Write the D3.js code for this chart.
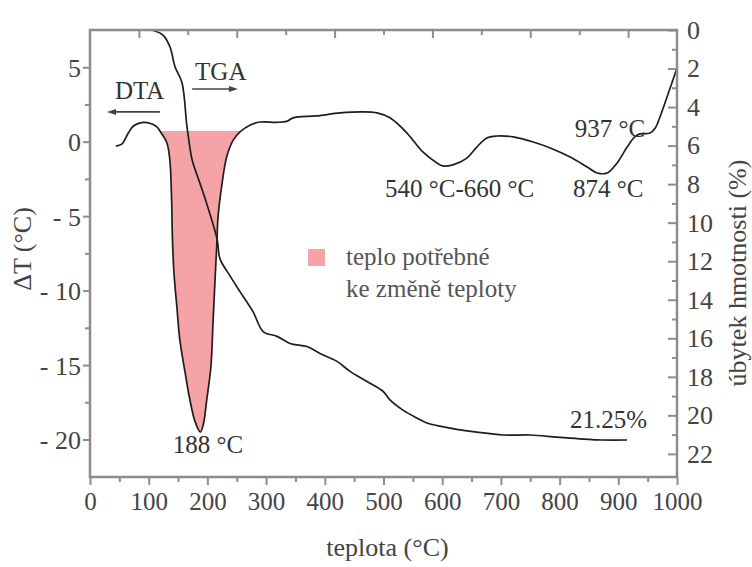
<!DOCTYPE html>
<html>
<head>
<meta charset="utf-8">
<script src="https://cdn.jsdelivr.net/npm/d3@7"></script>
<style>
  html, body { margin: 0; padding: 0; background: #fff; }
  svg { display: block; }
  text { font-family: "Liberation Serif", "Times New Roman", serif; }
</style>
</head>
<body>
<svg id="chart" width="752" height="567"></svg>
<script>
// ---- data ----
const dtaTemp = [44, 54, 65, 74, 88, 102, 114, 119, 131, 136, 139, 140.5, 143, 148, 153, 162, 170, 179, 188, 193, 199, 206, 209.5, 213, 216.4, 218, 225, 233, 244, 255.5, 273, 290, 318, 335, 346, 386, 426, 465, 489, 511, 540, 567, 591, 601, 618, 642, 659, 676, 693, 721, 755, 784, 818, 847, 864, 881, 898, 915, 928, 937, 954, 963, 971, 983, 1000];
const dtaDelta = [-0.3, -0.17, 0.56, 1.05, 1.28, 1.24, 1.0, 0.72, -0.09, -1.23, -3.9, -6.6, -8.8, -11.1, -13.3, -15.5, -17.3, -18.8, -19.5, -19.0, -17.3, -15.1, -12.2, -9.3, -6.6, -5.1, -2.8, -1.0, 0.1, 0.65, 1.12, 1.32, 1.3, 1.36, 1.6, 1.73, 1.93, 2.0, 1.93, 1.6, 0.58, -0.69, -1.43, -1.63, -1.56, -1.1, -0.36, 0.25, 0.38, 0.32, -0.02, -0.42, -1.03, -1.7, -2.1, -2.1, -1.43, -0.36, 0.32, 0.52, 0.58, 0.92, 1.66, 3.0, 4.95];

const tgaTemp = [98.8, 110.7, 124.4, 136.3, 144.8, 156.7, 165.2, 173.7, 178.9, 192.5, 216.4, 221.5, 238.5, 255.5, 277.7, 295, 318.6, 340.7, 369.7, 391.8, 420.8, 443, 471.9, 499.1, 511, 533.2, 557, 574.1, 613.3, 659.3, 703.6, 749.6, 795.6, 839.9, 873.9, 914.8];
const tgaLoss = [0, 0.05, 0.26, 0.88, 1.91, 2.74, 5.01, 6.71, 7.23, 8.42, 10.85, 11.88, 12.76, 13.58, 14.62, 15.65, 15.9, 16.27, 16.43, 16.79, 17.2, 17.72, 18.24, 18.75, 19.2, 19.73, 20.14, 20.4, 20.66, 20.87, 21.02, 21.02, 21.13, 21.23, 21.28, 21.28];

// heat region (filled peak)
const heatStart = 119, heatEnd = 255.5, heatLevel = 0.72;

const xTicks = [0, 100, 200, 300, 400, 500, 600, 700, 800, 900, 1000];
const leftTicks = [5, 0, -5, -10, -15, -20];
const rightTicks = [0, 2, 4, 6, 8, 10, 12, 14, 16, 18, 20, 22];

const annotations = [
  { text: "DTA", t: 42.6, v: 2.87 },
  { text: "TGA", t: 179, v: 4.14 },
  { text: "188 °C", t: 141, v: -20.9 },
  { text: "540 °C-660 °C", t: 502.6, v: -3.71 },
  { text: "874 °C", t: 822.8, v: -3.71 },
  { text: "937 °C", t: 826, v: 0.32 },
  { text: "21.25%", t: 817.7, v: -19.23 }
];
const legendLines = ["teplo potřebné", "ke změně teploty"];

// ---- layout ----
const svg = d3.select("#chart");
const L = 90, R = 677, T = 30, B = 477;
const x = d3.scaleLinear().domain([0, 1000]).range([L, R]);
const yL = d3.scaleLinear().domain([-22.52, 7.5]).range([B, T]);
const yR = d3.scaleLinear().domain([0, 23.2]).range([T, B]);

const axisColor = "#8c8c8c";
const textColor = "#444";
const fillColor = "#f5a3a6";

svg.append("defs").append("clipPath").attr("id", "clip")
  .append("rect").attr("x", L).attr("y", T).attr("width", R - L).attr("height", B - T);

// ---- heat fill ----
const dta = dtaTemp.map((t, i) => ({ t, v: dtaDelta[i] }));
const heat = dta.filter(d => d.t >= heatStart && d.t <= heatEnd);
svg.append("path")
  .datum(heat)
  .attr("fill", fillColor)
  .attr("clip-path", "url(#clip)")
  .attr("d", d3.area().x(d => x(d.t)).y0(yL(heatLevel)).y1(d => yL(Math.min(d.v, heatLevel))).curve(d3.curveCatmullRom.alpha(0.5)));

// ---- curves ----
svg.append("path")
  .datum(dta)
  .attr("fill", "none").attr("stroke", "#1e1e1e").attr("stroke-width", 1.7)
  .attr("clip-path", "url(#clip)")
  .attr("d", d3.line().x(d => x(d.t)).y(d => yL(d.v)).curve(d3.curveCatmullRom.alpha(0.5)));

const tga = tgaTemp.map((t, i) => ({ t, w: tgaLoss[i] }));
svg.append("path")
  .datum(tga)
  .attr("fill", "none").attr("stroke", "#1e1e1e").attr("stroke-width", 1.7)
  .attr("clip-path", "url(#clip)")
  .attr("d", d3.line().x(d => x(d.t)).y(d => yR(d.w)).curve(d3.curveCatmullRom.alpha(0.5)));

// ---- axes ----
function styleAxis(g, size) {
  g.select(".domain").remove();
  g.selectAll(".tick line").attr("stroke", axisColor).attr("stroke-width", 2);
  g.selectAll(".tick text").attr("fill", textColor).attr("font-size", size)
    .attr("font-family", '"Liberation Serif", serif');
}

// bottom major
const gx = svg.append("g").attr("transform", `translate(0,${B})`)
  .call(d3.axisBottom(x).tickValues(xTicks).tickFormat(d3.format("d")).tickSize(8).tickPadding(7));
styleAxis(gx, 25);
// bottom minor
svg.append("g").attr("transform", `translate(0,${B})`)
  .call(d3.axisBottom(x).tickValues(d3.range(50, 1000, 100)).tickFormat("").tickSize(5))
  .call(g => { g.select(".domain").remove(); g.selectAll("line").attr("stroke", axisColor).attr("stroke-width", 2); });

// top ticks (inward)
svg.append("g").attr("transform", `translate(0,${T})`)
  .call(d3.axisTop(x).tickValues(d3.range(1, 12).map(k => k * 1000 / 12)).tickFormat("").tickSize(0))
  .call(g => {
    g.select(".domain").remove();
    g.selectAll(".tick line").attr("stroke", axisColor).attr("stroke-width", 2)
      .attr("y2", (d, i) => (i % 2 === 0 ? 8 : 5));
  });

// left axis
const gl = svg.append("g").attr("transform", `translate(${L},0)`)
  .call(d3.axisLeft(yL).tickValues(leftTicks)
    .tickFormat(d => d < 0 ? "- " + Math.abs(d) : String(d)).tickSize(7).tickPadding(2));
styleAxis(gl, 26);
gl.selectAll(".tick text").attr("dy", "0.35em");
svg.append("g").attr("transform", `translate(${L},0)`)
  .call(d3.axisLeft(yL).tickValues([2.5, -2.5, -7.5, -12.5, -17.5]).tickFormat("").tickSize(5))
  .call(g => { g.select(".domain").remove(); g.selectAll("line").attr("stroke", axisColor).attr("stroke-width", 2); });

// right axis (ticks inward)
const gr = svg.append("g").attr("transform", `translate(${R},0)`)
  .call(d3.axisRight(yR).tickValues(rightTicks).tickFormat(d3.format("d")).tickSize(0).tickPadding(10));
styleAxis(gr, 26);
gr.selectAll(".tick line").attr("x2", -9);
svg.append("g").attr("transform", `translate(${R},0)`)
  .call(d3.axisRight(yR).tickValues(d3.range(1, 23, 2)).tickFormat("").tickSize(0))
  .call(g => { g.select(".domain").remove(); g.selectAll("line").attr("stroke", axisColor).attr("stroke-width", 2).attr("x2", -5); });

// frame
svg.append("rect").attr("x", L).attr("y", T).attr("width", R - L).attr("height", B - T)
  .attr("fill", "none").attr("stroke", axisColor).attr("stroke-width", 2.5);

// axis titles
svg.append("text").attr("transform", `translate(${(L + R) / 2 + 4},556)`)
  .attr("text-anchor", "middle").attr("font-size", 26).attr("fill", textColor).text("teplota (°C)");
svg.append("text").attr("transform", `translate(31,249) rotate(-90)`)
  .attr("text-anchor", "middle").attr("font-size", 26).attr("fill", textColor).text("ΔT (°C)");
svg.append("text").attr("transform", `translate(746,273) rotate(-90)`)
  .attr("text-anchor", "middle").attr("font-size", 26).attr("fill", textColor).text("úbytek hmotnosti (%)");

// annotations
svg.selectAll(".ann").data(annotations).enter().append("text")
  .attr("class", "ann")
  .attr("x", d => x(d.t)).attr("y", d => yL(d.v))
  .attr("font-size", 25).attr("fill", "#333").text(d => d.text);

// direction arrows
const arrows = [
  { t0: 119, t1: 29, v: 2.0 },
  { t0: 174, t1: 252, v: 3.54 }
];
arrows.forEach(a => {
  const x0 = x(a.t0), x1 = x(a.t1), yy = yL(a.v);
  const dir = Math.sign(x1 - x0);
  svg.append("line").attr("x1", x0).attr("x2", x1 - dir * 4).attr("y1", yy).attr("y2", yy)
    .attr("stroke", "#444").attr("stroke-width", 1.6);
  svg.append("path")
    .attr("d", `M${x1},${yy} L${x1 - dir * 9},${yy - 3} L${x1 - dir * 9},${yy + 3} Z`)
    .attr("fill", "#444");
});

// legend
const lg = svg.append("g").attr("transform", "translate(308,249)");
lg.append("rect").attr("width", 17).attr("height", 17).attr("fill", fillColor);
lg.selectAll("text").data(legendLines).enter().append("text")
  .attr("x", 38).attr("y", (d, i) => 16 + i * 32)
  .attr("font-size", 25).attr("fill", "#555").text(d => d);
</script>
</body>
</html>
